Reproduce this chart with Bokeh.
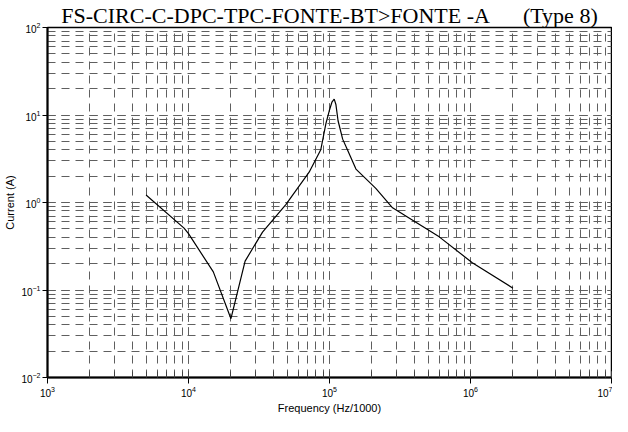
from bokeh.plotting import figure
from bokeh.embed import file_html
from bokeh.resources import INLINE
from bokeh.models import LogTicker

title_text = "FS-CIRC-C-DPC-TPC-FONTE-BT>FONTE -A\u00a0\u00a0\u00a0\u00a0\u00a0\u00a0(Type 8)"
x_label = "Frequency (Hz/1000)"
y_label = "Current (A)"

freq = [5000, 9300, 10000, 15000, 20000, 25200, 33500, 49000, 71700, 86700,
        94200, 99500, 104000, 108000, 111000, 115000, 124000, 134000, 154000, 213000,
        280000, 600000, 1030000, 2000000]
current = [1.22, 0.51, 0.44, 0.161, 0.047, 0.214, 0.459, 0.946, 2.22, 4.0,
           7.9, 11.1, 14.0, 15.2, 13.2, 8.6, 5.3, 4.0, 2.41, 1.45,
           0.87, 0.405, 0.205, 0.105]

p = figure(width=612, height=416, x_axis_type="log", y_axis_type="log",
           x_range=(1e3, 1e7), y_range=(1e-2, 1e2),
           output_backend="svg", toolbar_location=None,
           min_border_left=47, min_border_right=1, min_border_top=26, min_border_bottom=29)

p.title.text = title_text
p.title.text_font = "Liberation Serif"
p.title.text_font_size = "22px"
p.title.text_font_style = "normal"
p.title.text_color = "black"
p.title.text_line_height = 0.9
p.title.align = "center"
p.title.standoff = 0

p.line(freq, current, line_color="black", line_width=1.2)

p.xaxis.ticker = LogTicker(num_minor_ticks=10)
p.yaxis.ticker = LogTicker(num_minor_ticks=10)

for ax in (p.xaxis, p.yaxis):
    ax.axis_line_color = "black"
    ax.axis_line_width = 2
    ax.major_tick_line_color = "black"
    ax.major_tick_in = 0
    ax.major_label_text_font = "Liberation Sans"
    ax.major_label_text_font_size = "10px"
    ax.major_label_text_color = "black"
    ax.axis_label_text_font = "Liberation Sans"
    ax.axis_label_text_font_size = "11px"
    ax.axis_label_text_font_style = "normal"
    ax.axis_label_text_color = "black"

p.xaxis.axis_label = x_label
p.yaxis.axis_label = y_label
p.xaxis.major_tick_out = 6
p.yaxis.major_tick_out = 5
p.xaxis.minor_tick_in = 6
p.xaxis.minor_tick_out = 0
p.xaxis.minor_tick_line_color = "#404040"
p.yaxis.minor_tick_in = 0
p.yaxis.minor_tick_out = 0
p.xaxis.major_label_standoff = 2
p.yaxis.major_label_standoff = 2
p.xaxis.axis_label_standoff = 2
p.yaxis.axis_label_standoff = 2

for g in (p.xgrid, p.ygrid):
    g.grid_line_color = "#5f5f5f"
    g.grid_line_dash = "8 6"
    g.grid_line_width = 1
    g.minor_grid_line_color = "#5f5f5f"
    g.minor_grid_line_dash = "8 6"
    g.minor_grid_line_width = 1

p.outline_line_color = "black"
p.outline_line_width = 1.5
p.background_fill_color = "white"
p.border_fill_color = "white"

open("out.html", "w").write(file_html(p, INLINE))
